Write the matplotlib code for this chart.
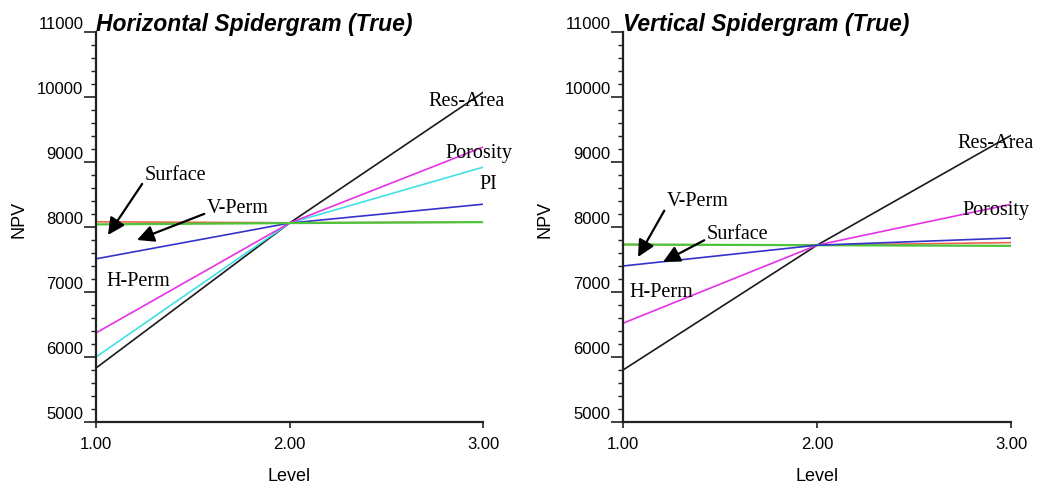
import matplotlib
matplotlib.use("Agg")
import matplotlib.pyplot as plt
from matplotlib.ticker import MultipleLocator, FixedLocator

# Sensitivity levels and NPV responses for each parameter
levels = [1.0, 2.0, 3.0]
level_labels = ["1.00", "2.00", "3.00"]

# Horizontal well case
h_res_area = [5830, 8060, 10070]
h_porosity = [6370, 8060, 9230]
h_pi = [6000, 8060, 8920]
h_v_perm = [7510, 8060, 8350]
h_surface = [8080, 8065, 8075]
h_h_perm = [8040, 8060, 8075]

# Vertical well case
v_res_area = [5800, 7720, 9410]
v_porosity = [6520, 7720, 8350]
v_surface = [7400, 7720, 7830]
v_v_perm = [7730, 7720, 7710]
v_h_perm = [7730, 7720, 7760]

COLORS = {
    "black": "#1a1a1a",
    "magenta": "#e632e6",
    "cyan": "#3fe0e6",
    "blue": "#3333cc",
    "red": "#e8664a",
    "green": "#4cc53c",
}

fig = plt.figure(figsize=(10.41, 4.86), dpi=100)
ax1 = fig.add_axes([0.0922, 0.1317, 0.3718, 0.8025])
ax2 = fig.add_axes([0.5985, 0.1317, 0.3727, 0.8025])

serif = "Liberation Serif"
sans = "Liberation Sans"


def style_axis(ax, title):
    ax.set_xlim(1, 3)
    ax.set_ylim(5000, 11000)
    for side in ("top", "right"):
        ax.spines[side].set_visible(False)
    for side in ("left", "bottom"):
        ax.spines[side].set_linewidth(1.6)
        ax.spines[side].set_color("#222222")
    ax.xaxis.set_major_locator(FixedLocator(levels))
    ax.set_xticklabels(level_labels, fontsize=12, family=sans)
    ax.yaxis.set_major_locator(MultipleLocator(1000))
    ax.yaxis.set_minor_locator(MultipleLocator(200))
    ax.tick_params(axis="y", which="major", length=9, width=1.2,
                   color="#222222", pad=0, labelsize=12)
    ax.tick_params(axis="y", which="minor", length=3.5, width=1.0,
                   color="#222222")
    ax.tick_params(axis="x", which="major", length=4, width=1.2,
                   color="#222222", pad=7)
    for lbl in ax.get_yticklabels():
        lbl.set_verticalalignment("bottom")
        lbl.set_family(sans)
    ax.set_xlabel("Level", fontsize=13, family=sans)
    ax.set_ylabel("NPV", fontsize=13, family=sans)
    ax.xaxis.set_label_coords(0.5, -0.118)
    ax.yaxis.set_label_coords(-0.178, 0.52)
    # fixed y keeps the title sitting on the top of the axis line
    ax.set_title(title, loc="left", fontsize=16.5, family=sans,
                 fontweight="bold", style="italic", pad=1, x=0.0, y=1.0)


def label(ax, text, x, y):
    ax.text(x, y, text, fontsize=14.5, family=serif, ha="left", va="center")


def arrow_label(ax, text, xy, xytext):
    ax.annotate(text, xy=xy, xytext=xytext, fontsize=14.5, family=serif,
                ha="left", va="center",
                arrowprops=dict(arrowstyle="-|>,head_length=0.7,head_width=0.35",
                                color="black", lw=1.6, relpos=(0.0, 0.3),
                                shrinkA=0, shrinkB=0))


lw = 1.2

# Horizontal spidergram
ax1.plot(levels, h_res_area, color=COLORS["black"], lw=lw)
ax1.plot(levels, h_pi, color=COLORS["cyan"], lw=lw)
ax1.plot(levels, h_porosity, color=COLORS["magenta"], lw=lw)
ax1.plot(levels, h_v_perm, color=COLORS["blue"], lw=lw)
ax1.plot(levels, h_surface, color=COLORS["red"], lw=lw)
ax1.plot(levels, h_h_perm, color=COLORS["green"], lw=1.6)
style_axis(ax1, "Horizontal Spidergram (True)")

label(ax1, "Res-Area", 2.716, 9923)
label(ax1, "Porosity", 2.804, 9138)
label(ax1, "PI", 2.984, 8646)
label(ax1, "H-Perm", 1.052, 7169)
arrow_label(ax1, "Surface", (1.062, 7877), (1.253, 8785))
arrow_label(ax1, "V-Perm", (1.212, 7800), (1.574, 8277))

# Vertical spidergram
ax2.plot(levels, v_res_area, color=COLORS["black"], lw=lw)
ax2.plot(levels, v_porosity, color=COLORS["magenta"], lw=lw)
ax2.plot(levels, v_h_perm, color=COLORS["red"], lw=lw)
ax2.plot(levels, v_v_perm, color=COLORS["green"], lw=1.6)
ax2.plot(levels, v_surface, color=COLORS["blue"], lw=lw)
style_axis(ax2, "Vertical Spidergram (True)")

label(ax2, "Res-Area", 2.722, 9292)
label(ax2, "Porosity", 2.747, 8246)
label(ax2, "H-Perm", 1.031, 6985)
arrow_label(ax2, "V-Perm", (1.077, 7538), (1.227, 8385))
arrow_label(ax2, "Surface", (1.206, 7462), (1.433, 7877))

fig.savefig("out.png", dpi=100)
